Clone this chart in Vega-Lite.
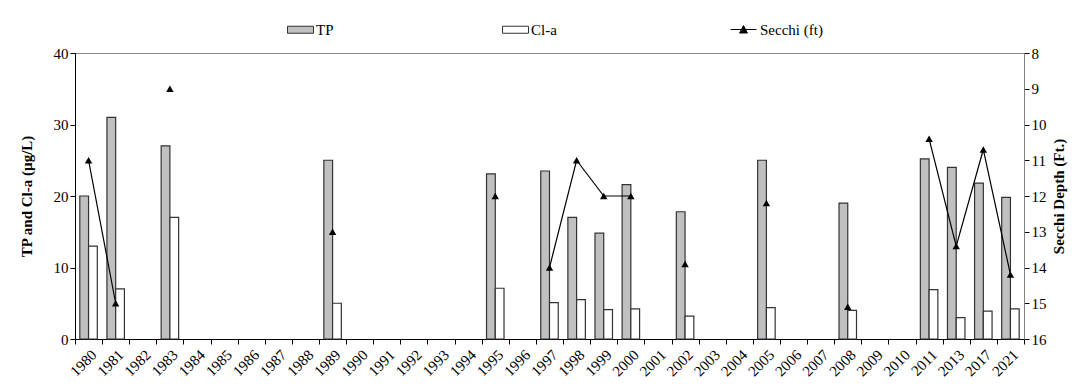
{
  "$schema": "https://vega.github.io/schema/vega-lite/v6.json",
  "width": 949,
  "height": 286,
  "autosize": {"type": "none"},
  "padding": {"left": 75, "top": 53, "right": 58, "bottom": 52},
  "background": "white",
  "config": {
    "font": "Times New Roman, Liberation Serif, serif",
    "view": {"stroke": "#888888", "strokeWidth": 1},
    "axis": {
      "labelFont": "Times New Roman, Liberation Serif, serif",
      "titleFont": "Times New Roman, Liberation Serif, serif",
      "labelColor": "black",
      "titleColor": "black",
      "labelFontSize": 15,
      "titleFontSize": 15,
      "titleFontWeight": "bold",
      "domainColor": "black",
      "tickColor": "black",
      "tickSize": 5,
      "grid": false
    },
    "legend": {
      "labelFont": "Times New Roman, Liberation Serif, serif",
      "labelFontSize": 15,
      "labelColor": "black",
      "padding": 0
    }
  },
  "data": {
    "values": [
      {"year": "1980", "TP": 20, "Cl-a": 13, "Secchi": 11},
      {"year": "1981", "TP": 31, "Cl-a": 7, "Secchi": 15},
      {"year": "1982", "TP": null, "Cl-a": null, "Secchi": null},
      {"year": "1983", "TP": 27, "Cl-a": 17, "Secchi": 9},
      {"year": "1984", "TP": null, "Cl-a": null, "Secchi": null},
      {"year": "1985", "TP": null, "Cl-a": null, "Secchi": null},
      {"year": "1986", "TP": null, "Cl-a": null, "Secchi": null},
      {"year": "1987", "TP": null, "Cl-a": null, "Secchi": null},
      {"year": "1988", "TP": null, "Cl-a": null, "Secchi": null},
      {"year": "1989", "TP": 25, "Cl-a": 5, "Secchi": 13},
      {"year": "1990", "TP": null, "Cl-a": null, "Secchi": null},
      {"year": "1991", "TP": null, "Cl-a": null, "Secchi": null},
      {"year": "1992", "TP": null, "Cl-a": null, "Secchi": null},
      {"year": "1993", "TP": null, "Cl-a": null, "Secchi": null},
      {"year": "1994", "TP": null, "Cl-a": null, "Secchi": null},
      {"year": "1995", "TP": 23.1, "Cl-a": 7.1, "Secchi": 12},
      {"year": "1996", "TP": null, "Cl-a": null, "Secchi": null},
      {"year": "1997", "TP": 23.5, "Cl-a": 5.1, "Secchi": 14},
      {"year": "1998", "TP": 17, "Cl-a": 5.5, "Secchi": 11},
      {"year": "1999", "TP": 14.8, "Cl-a": 4.1, "Secchi": 12},
      {"year": "2000", "TP": 21.6, "Cl-a": 4.2, "Secchi": 12},
      {"year": "2001", "TP": null, "Cl-a": null, "Secchi": null},
      {"year": "2002", "TP": 17.8, "Cl-a": 3.2, "Secchi": 13.9},
      {"year": "2003", "TP": null, "Cl-a": null, "Secchi": null},
      {"year": "2004", "TP": null, "Cl-a": null, "Secchi": null},
      {"year": "2005", "TP": 25, "Cl-a": 4.4, "Secchi": 12.2},
      {"year": "2006", "TP": null, "Cl-a": null, "Secchi": null},
      {"year": "2007", "TP": null, "Cl-a": null, "Secchi": null},
      {"year": "2008", "TP": 19, "Cl-a": 4, "Secchi": 15.1},
      {"year": "2009", "TP": null, "Cl-a": null, "Secchi": null},
      {"year": "2010", "TP": null, "Cl-a": null, "Secchi": null},
      {"year": "2011", "TP": 25.2, "Cl-a": 6.9, "Secchi": 10.4},
      {"year": "2013", "TP": 24, "Cl-a": 3, "Secchi": 13.4},
      {"year": "2017", "TP": 21.8, "Cl-a": 3.9, "Secchi": 10.7},
      {"year": "2021", "TP": 19.8, "Cl-a": 4.2, "Secchi": 14.2}
    ]
  },
  "resolve": {"scale": {"y": "independent"}},
  "layer": [
    {
      "transform": [
        {"fold": ["TP", "Cl-a"], "as": ["series", "value"]},
        {"filter": "datum.value != null"}
      ],
      "mark": {"type": "bar", "stroke": "#333333", "strokeWidth": 1.2},
      "encoding": {
        "x": {
          "field": "year",
          "type": "ordinal",
          "sort": null,
          "scale": {
            "domain": ["1980","1981","1982","1983","1984","1985","1986","1987","1988","1989","1990","1991","1992","1993","1994","1995","1996","1997","1998","1999","2000","2001","2002","2003","2004","2005","2006","2007","2008","2009","2010","2011","2013","2017","2021"],
            "paddingInner": 0,
            "paddingOuter": 0
          },
          "axis": {"title": null, "labelAngle": -45, "labelFontSize": 15, "tickBand": "extent", "labelPadding": 3}
        },
        "xOffset": {
          "field": "series",
          "type": "nominal",
          "sort": ["TP", "Cl-a"],
          "scale": {"domain": ["TP", "Cl-a"], "paddingInner": 0, "paddingOuter": 0.55}
        },
        "y": {
          "field": "value",
          "type": "quantitative",
          "scale": {"domain": [0, 40], "nice": false},
          "axis": {"title": "TP and Cl-a (µg/L)", "values": [0, 10, 20, 30, 40], "orient": "left", "titlePadding": 19}
        },
        "fill": {
          "field": "series",
          "type": "nominal",
          "scale": {"domain": ["TP", "Cl-a"], "range": ["#c0c0c0", "#ffffff"]},
          "legend": {
            "title": null,
            "orient": "none",
            "legendX": 212,
            "legendY": -37,
            "direction": "horizontal",
            "symbolType": "M-1,-0.27H1V0.27H-1Z",
            "symbolSize": 676,
            "symbolStrokeColor": "#333333",
            "symbolStrokeWidth": 1,
            "labelOffset": 2,
            "columnPadding": 166,
            "encode": {"symbols": {"update": {"stroke": {"value": "#333333"}, "strokeWidth": {"value": 1}}}}
          }
        }
      }
    },
    {
      "encoding": {
        "x": {"field": "year", "type": "ordinal", "sort": null},
        "y": {
          "field": "Secchi",
          "type": "quantitative",
          "scale": {"domain": [8, 16], "reverse": true, "nice": false, "zero": false},
          "axis": {"orient": "right", "title": "Secchi Depth (Ft.)", "titleAngle": -90, "values": [8, 9, 10, 11, 12, 13, 14, 15, 16], "domainColor": "#808080", "titlePadding": 20}
        }
      },
      "layer": [
        {
          "mark": {"type": "line", "strokeWidth": 1.2},
          "encoding": {
            "stroke": {
              "datum": "Secchi (ft)",
              "scale": {"range": ["black"]},
              "legend": {
                "title": null,
                "orient": "none",
                "legendX": 655,
                "legendY": -37,
                "symbolType": "M-1,0H1M-0.3,0.27L0,-0.3L0.3,0.27Z",
                "symbolSize": 676,
                "symbolStrokeWidth": 1,
                "labelOffset": 3,
                "encode": {"symbols": {"update": {"fill": {"value": "black"}, "stroke": {"value": "black"}, "strokeWidth": {"value": 1}}}}
              }
            }
          }
        },
        {
          "transform": [{"filter": "datum.Secchi != null"}],
          "mark": {"type": "point", "shape": "triangle-up", "filled": true, "color": "black", "size": 55, "opacity": 1}
        }
      ]
    }
  ]
}
